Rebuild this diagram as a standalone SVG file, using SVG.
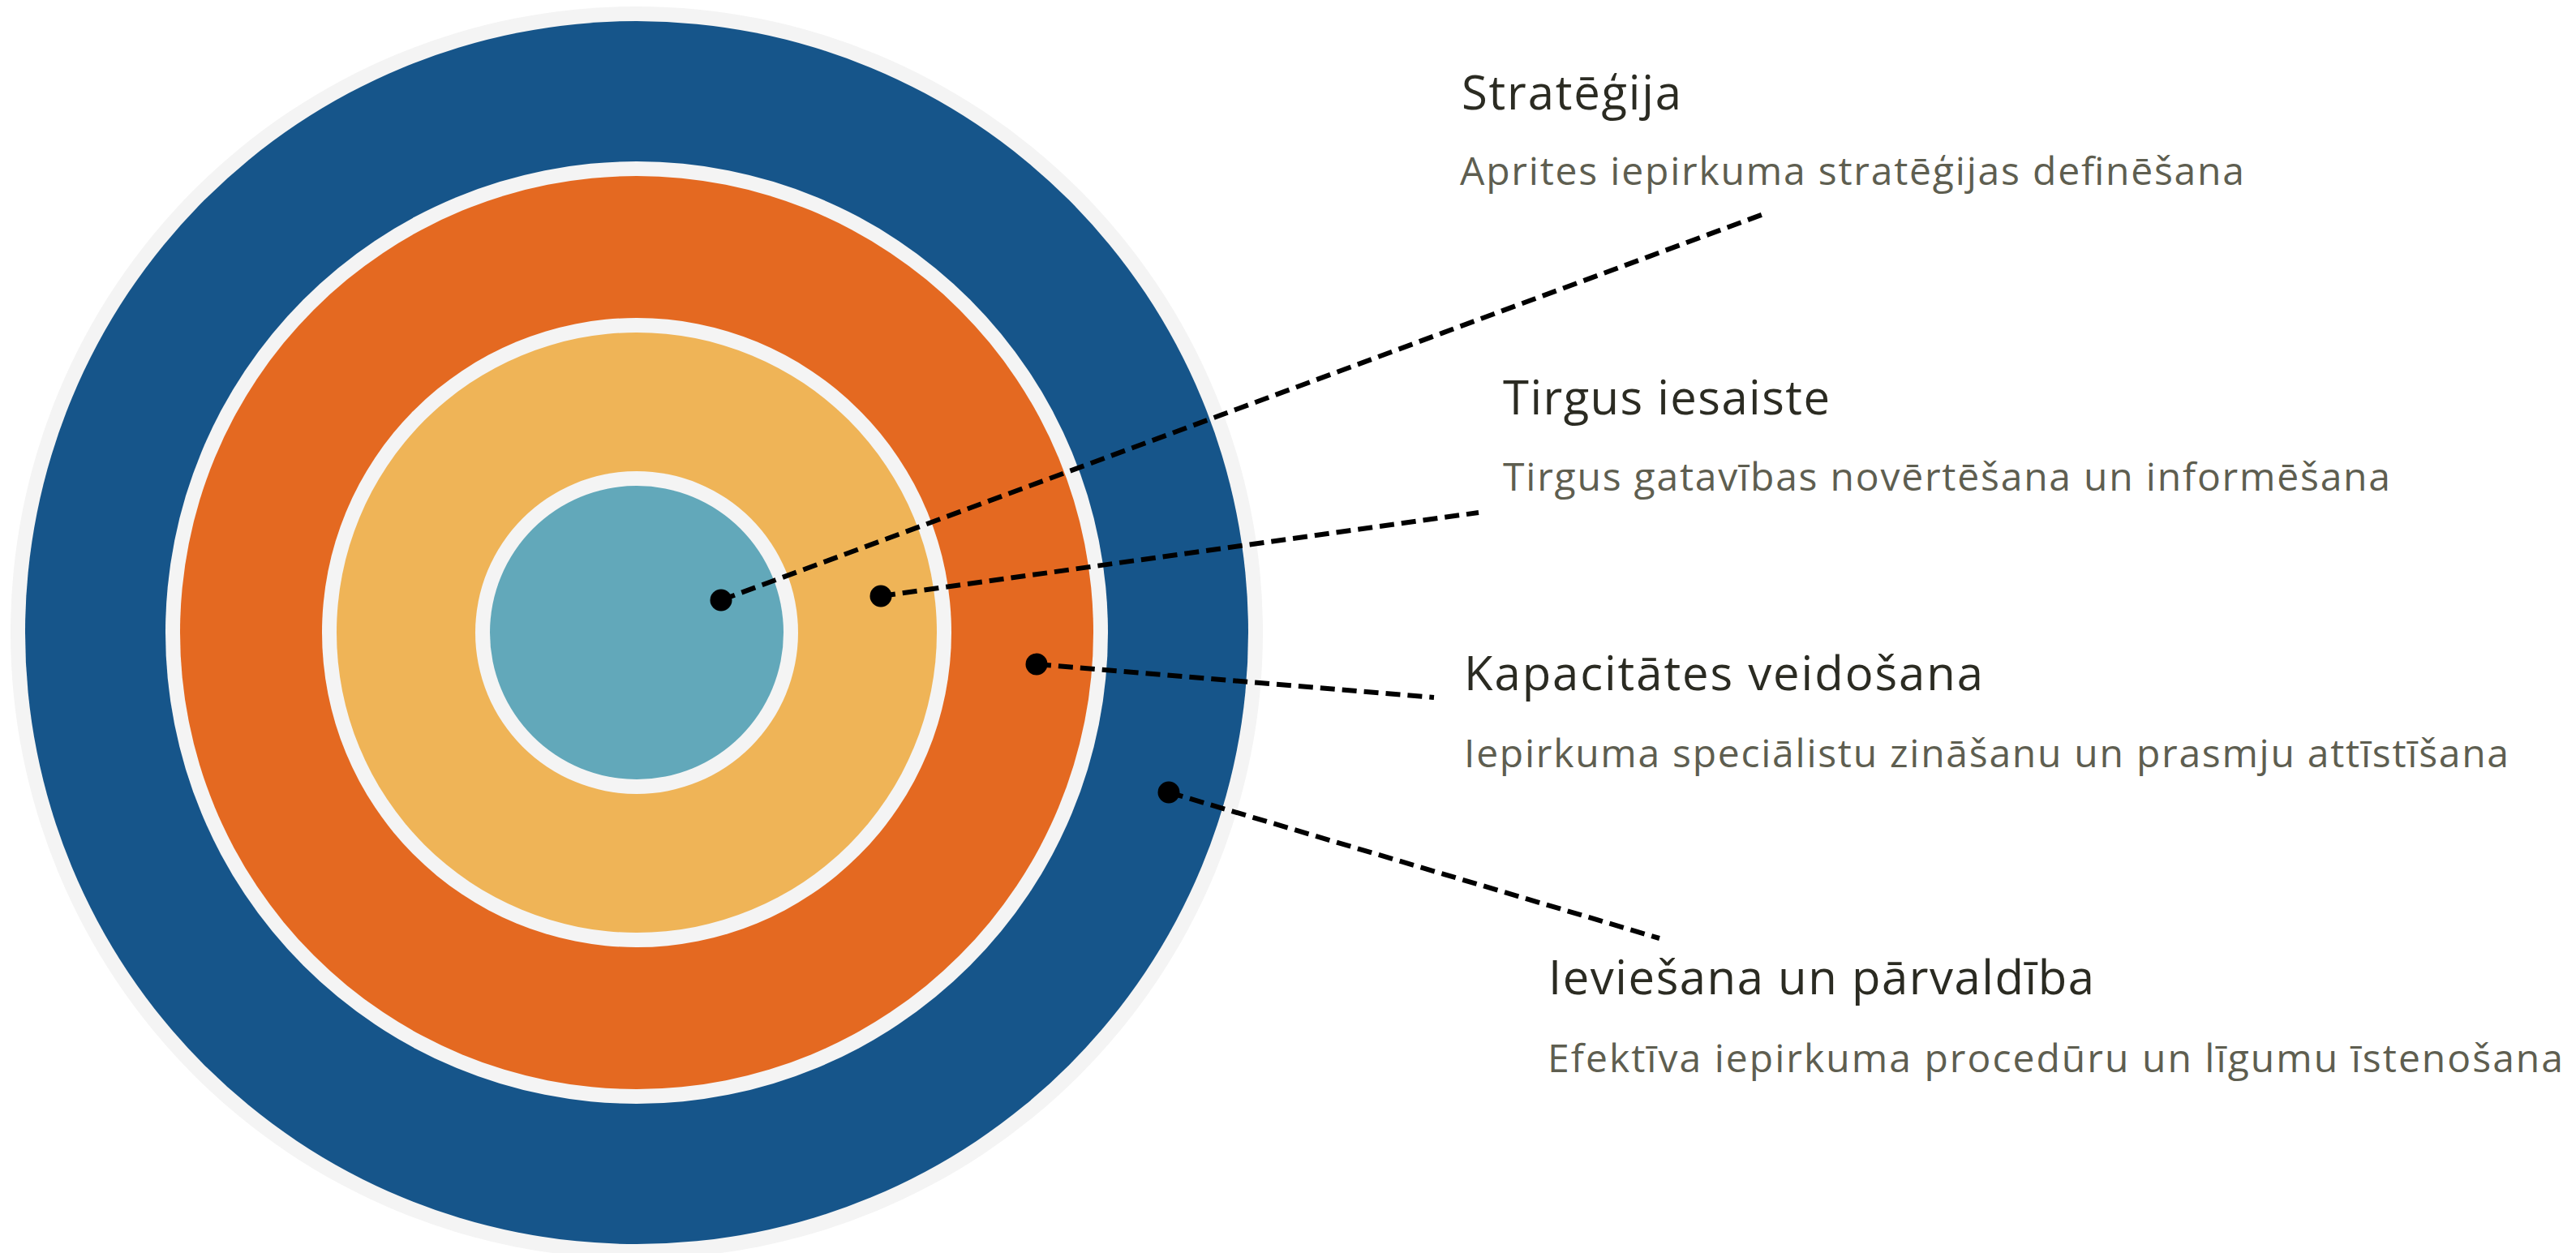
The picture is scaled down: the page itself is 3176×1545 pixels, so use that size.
<svg xmlns="http://www.w3.org/2000/svg" width="3176" height="1545" viewBox="0 0 3176 1545">
<style>
.gap{fill:#f4f4f4}
.title{font-family:"Open Sans","Noto Sans","Liberation Sans",sans-serif;font-size:58px;fill:#2b2b22}
.sub{font-family:"Open Sans","Noto Sans","Liberation Sans",sans-serif;font-size:48px;fill:#5e5e50}
.conn{stroke:#000;stroke-width:6;stroke-dasharray:18 9;fill:none}
.dot{fill:#000}
</style>
<rect width="3176" height="1545" fill="#ffffff"/>
<g id="ring-ieviesana">
<circle class="gap" cx="785" cy="780" r="772"/>
<circle cx="785" cy="780" r="754" fill="#16558a"/>
</g>
<g id="ring-kapacitate">
<circle class="gap" cx="785" cy="780" r="581"/>
<circle cx="785" cy="780" r="563" fill="#e46921"/>
</g>
<g id="ring-tirgus">
<circle class="gap" cx="785" cy="780" r="388"/>
<circle cx="785" cy="780" r="370" fill="#efb457"/>
</g>
<g id="ring-strategija">
<circle class="gap" cx="785" cy="780" r="199"/>
<circle cx="785" cy="780" r="181" fill="#62a8ba"/>
</g>
<g id="connectors">
<line class="conn" x1="889" y1="740" x2="2177" y2="263"/>
<line class="conn" x1="1086" y1="735" x2="1823" y2="632"/>
<line class="conn" x1="1278" y1="819" x2="1768" y2="860"/>
<line class="conn" x1="1441" y1="977" x2="2046" y2="1157"/>
<circle class="dot" cx="889" cy="740" r="13.5"/>
<circle class="dot" cx="1086" cy="735" r="13.5"/>
<circle class="dot" cx="1278" cy="819" r="13.5"/>
<circle class="dot" cx="1441" cy="977" r="13.5"/>
</g>
<g id="label-strategija">
<text class="title" x="1802" y="135" textLength="271" lengthAdjust="spacing">Stratēģija</text>
<text class="sub" x="1800" y="228" textLength="967" lengthAdjust="spacing">Aprites iepirkuma stratēģijas definēšana</text>
</g>
<g id="label-tirgus">
<text class="title" x="1853" y="511" textLength="403" lengthAdjust="spacing">Tirgus iesaiste</text>
<text class="sub" x="1853" y="605" textLength="1094" lengthAdjust="spacing">Tirgus gatavības novērtēšana un informēšana</text>
</g>
<g id="label-kapacitate">
<text class="title" x="1805" y="851" textLength="640" lengthAdjust="spacing">Kapacitātes veidošana</text>
<text class="sub" x="1805" y="946" textLength="1288" lengthAdjust="spacing">Iepirkuma speciālistu zināšanu un prasmju attīstīšana</text>
</g>
<g id="label-ieviesana">
<text class="title" x="1909" y="1226" textLength="673" lengthAdjust="spacing">Ieviešana un pārvaldība</text>
<text class="sub" x="1908" y="1322" textLength="1252" lengthAdjust="spacing">Efektīva iepirkuma procedūru un līgumu īstenošana</text>
</g>
</svg>
